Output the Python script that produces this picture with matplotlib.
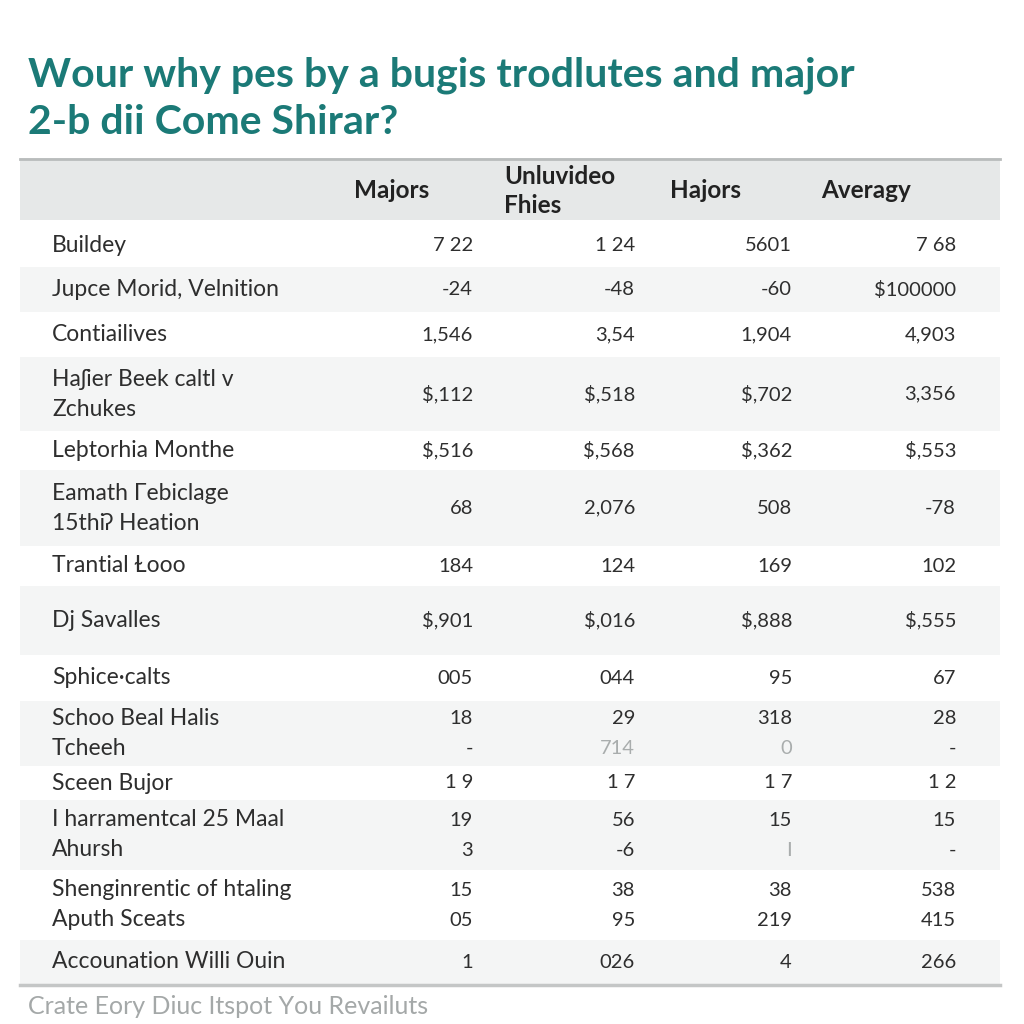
import matplotlib.pyplot as plt
from matplotlib.patches import Rectangle

plt.rcParams['font.family'] = ['Lato', 'DejaVu Sans']

title_lines = ['Wour why pes by a bugis trodlutes and major', '2-b dii Come Shirar?']
col_headers = ['Majors', 'Unluvideo\nFhies', 'Hajors', 'Averagy']
footnote = 'Crate Eory Diuc Itspot You Revailuts'

row_labels = [
    'Buildey',
    'Jupce Morid, Velnition',
    'Contiailives',
    'Haʃier Beek caltl v\nZchukes',
    'Leþtorhia Monthe',
    'Eamath Γebiclage\n15thiʔ Heation',
    'Trantial Ɫooo',
    'Dj Savalles',
    'Sphice·calts',
    'Schoo Beal Halis\nTcheeh',
    'Sceen Bujor',
    'I harramentcal 25 Maal\nAhursh',
    'Shenginrentic of htaling\nAputh Sceats',
    'Accounation Willi Ouin',
]

majors = ['7 22', '-24', '1,546', '$,112', '$,516', '68', '184', '$,901', '005', '18\n-', '1 9', '19\n3', '15\n05', '1']
unluvideo = ['1 24', '-48', '3,54', '$,518', '$,568', '2,076', '124', '$,016', '044', '29\n714', '1 7', '56\n-6', '38\n95', '026']
hajors = ['5601', '-60', '1,904', '$,702', '$,362', '508', '169', '$,888', '95', '318\n0', '1 7', '15\nI', '38\n219', '4']
averagy = ['7 68', '$100000', '4,903', '3,356', '$,553', '-78', '102', '$,555', '67', '28\n-', '1 2', '15\n-', '538\n415', '266']

# layout (pixels)
row_edges = [224, 267, 312, 357, 431, 470, 546, 586, 655, 701, 766, 800, 870, 940, 984]
row_shaded = [False, True, False, True, False, True, False, True, False, True, False, True, False, True]
col_right = [473, 635, 792, 956]
header_x = [392, 504, 706, 866]
header_ha = ['center', 'left', 'center', 'center']
faint = {(9, 1), (9, 2), (11, 2)}

TEAL = '#1b7a77'
TEXT = '#2e2e2e'

fig = plt.figure(figsize=(10.24, 10.24), dpi=100)
ax = fig.add_axes([0, 0, 1, 1])
ax.set_xlim(0, 1024)
ax.set_ylim(1024, 0)
ax.axis('off')

ax.text(28, 75, title_lines[0], color=TEAL, fontsize=29.5, fontweight='bold', va='center', ha='left')
ax.text(28, 123, title_lines[1], color=TEAL, fontsize=29.5, fontweight='bold', va='center', ha='left')

# header band
ax.add_patch(Rectangle((20, 158), 980, 62, facecolor='#e6e8e8', edgecolor='none'))
ax.plot([20, 1000], [159, 159], color='#b9bcbc', lw=2)
for hx, ha, h in zip(header_x, header_ha, col_headers):
    ax.text(hx, 191, h, ha=ha, va='center', fontsize=17.5, fontweight='bold',
            color='#222222', linespacing=1.3)

cols = [majors, unluvideo, hajors, averagy]
for i, lab in enumerate(row_labels):
    top, bot = row_edges[i], row_edges[i + 1]
    if row_shaded[i]:
        ax.add_patch(Rectangle((20, top), 980, bot - top, facecolor='#f4f5f5', edgecolor='none'))
    nlines = lab.count('\n') + 1
    mid = (top + bot) / 2
    ys = [mid] if nlines == 1 else [mid - 15, mid + 15]
    for y, part in zip(ys, lab.split('\n')):
        ax.text(52, y, part, ha='left', va='center', fontsize=16.5, color=TEXT)
    for j, col in enumerate(cols):
        parts = col[i].split('\n')
        vys = [mid] if len(parts) == 1 else ys
        for k, (y, v) in enumerate(zip(vys, parts)):
            c = '#a9adad' if (k == 1 and (i, j) in faint) else TEXT
            ax.text(col_right[j], y, v, ha='right', va='center', fontsize=14.5, color=c)

ax.plot([20, 1000], [985, 985], color='#c4c6c6', lw=2.5)
ax.text(28, 1007, footnote, ha='left', va='center', fontsize=18, color='#a4a8a8')

fig.savefig('out.png', dpi=100, facecolor='white')
